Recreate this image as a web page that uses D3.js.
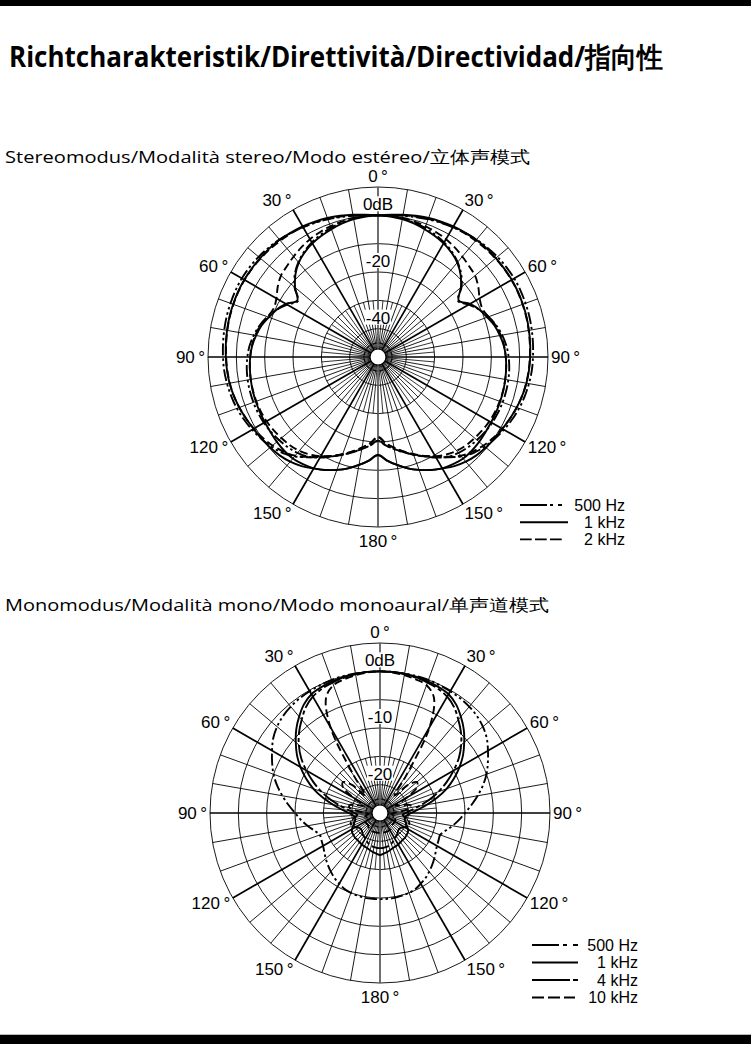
<!DOCTYPE html>
<html>
<head>
<meta charset="utf-8">
<script src="https://cdn.jsdelivr.net/npm/d3@7/dist/d3.min.js"></script>
<style>
  body { margin: 0; background: #fff; }
  text { fill: #000; }
</style>
</head>
<body>
<svg id="page" width="751" height="1044"></svg>
<script>
// ---- data -------------------------------------------------------------
const title = 'Richtcharakteristik/Direttività/Directividad/指向性';
const stereoTitle = 'Stereomodus/Modalità stereo/Modo estéreo/立体声模式';
const monoTitle = 'Monomodus/Modalità mono/Modo monoaural/单声道模式';

const angleTicks = [0, 30, 60, 90, 120, 150, 180];

// stereo mode: one channel, every 5 deg clockwise from front, dB
// (the other channel is the mirror image)
const stereoAngles = d3.range(0, 360, 5);
const stereo500 = [
  0, -0.1, -0.4, -0.9, -1.5, -2.3, -3.3, -4.6, -6.3, -8.5, -11.5, -15.5,
  -13, -10.5, -8.5, -6.8, -5.5, -4.5, -3.9, -3.5, -3.3, -3.2, -3.2, -3.3,
  -3.5, -3.9, -4.4, -5, -5.8, -7, -9, -11.3, -13.3, -15.2, -17, -18.7,
  -20.5, -18.7, -17, -15.3, -13.3, -11.3, -9.3, -6.8, -4.2, -2.2, -0.8, 0.3,
  1.3, 2.2, 3, 3.6, 4.1, 4.5, 4.7, 4.9, 5.1, 5.3, 5.4, 5.5,
  5.5, 5.3, 5, 4.6, 4.1, 3.5, 2.9, 2.3, 1.7, 1.1, 0.6, 0.2];
const stereo1k = [
  0, -0.2, -0.6, -1.2, -2, -2.8, -3.7, -4.9, -6.5, -8.8, -11.8, -15.2,
  -12.5, -10.5, -9, -7.4, -6.3, -5.4, -4.9, -4.6, -4.4, -4.2, -4.1, -4,
  -3.9, -3.7, -3.4, -3.2, -3.2, -3.8, -4.6, -6, -7.6, -9.3, -11.3, -13.3,
  -15.4, -13.3, -11.3, -9.3, -7.6, -6, -4.6, -3, -1.8, -0.9, -0.3, 0.2,
  0.7, 1.4, 2.1, 2.7, 3.2, 3.5, 3.7, 3.9, 4.1, 4.3, 4.4, 4.5,
  4.5, 4.4, 4.3, 4.2, 4, 3.6, 3.2, 2.7, 2.2, 1.6, 1, 0.4];
const stereo2k = [
  0, 0, -0.2, -0.5, -0.9, -1.4, -2, -2.8, -3.7, -4.6, -5.3, -6.8,
  -8.6, -9.4, -8.5, -7, -6, -5.3, -4.9, -4.6, -4.4, -4.3, -4.3, -4.4,
  -4.6, -5, -5.5, -6, -6.8, -8, -9.5, -11.5, -13.5, -15.5, -17.5, -19.5,
  -21.8, -19.5, -17.5, -15.5, -13.5, -11.5, -9.5, -7, -4.5, -2.8, -1.4, -0.3,
  0.6, 1.4, 2.1, 2.7, 3.1, 3.4, 3.6, 3.8, 4, 4.2, 4.3, 4.4,
  4.4, 4.3, 4.1, 3.9, 3.6, 3.3, 2.9, 2.4, 1.9, 1.3, 0.8, 0.3];

// mono mode: symmetric, every 5 deg from 0 to 180, dB
const monoAngles = d3.range(0, 185, 5);
const mono500 = [0, 0, 0, 0, 0, -0.1, -0.2, -0.3, -0.5, -0.8, -1.3, -2, -3,
  -4, -5, -6.2, -7.5, -8.8, -10, -11, -12, -13, -13.7, -13.6, -13.4,
  -13, -12.5, -12, -11.5, -11, -10.6, -10.2, -10, -9.9, -9.8, -9.8, -9.8];
const mono1k = [0, 0, -0.1, -0.2, -0.3, -0.5, -0.8, -1.6, -2.8, -4.1, -5.6, -7.1, -8.8,
  -10.6, -12.5, -14.6, -16.6, -18.3, -19.5, -20.2, -20.5, -20.5, -20.2, -19.8, -19.3,
  -19, -18.9, -18.8, -18.8, -18.7, -18.6, -18.5, -18.4, -18.2, -18, -17.8, -17.6];
const mono4k = [0, 0, -0.1, -0.3, -0.5, -0.8, -1.3, -2.2, -3.5, -4.8, -6.3, -8, -10,
  -12, -14, -16, -18, -19.5, -20.5, -21, -20.5, -19.8, -19.5, -19.6, -20,
  -20.5, -20.6, -20.5, -20.2, -20, -19.8, -19.5, -19.2, -19, -18.9, -18.8, -18.8];
const mono10k = [0, -0.1, -0.3, -0.6, -1, -2.5, -7.5, -17, -21, -18, -16.5, -17, -19.5,
  -22, -21, -19.5, -19.5, -21, -22.5, -23, -22.5, -22.3, -22.2, -22, -22,
  -22, -22, -22, -21.8, -21.7, -21.6, -21.5, -21.5, -21.5, -21.5, -21.5, -21.5];

const stereoRings = [10, 0, -10, -20, -30, -40, -45];
const stereoLabels = [[0, '0dB'], [-20, '-20'], [-40, '-40']];
const monoRings = [5, 0, -5, -10, -15, -20, -22.5];
const monoLabels = [[0, '0dB'], [-10, '-10'], [-20, '-20']];

const stereoLegend = ['500 Hz', '1 kHz', '2 kHz'];
const monoLegend = ['500 Hz', '1 kHz', '4 kHz', '10 kHz'];

// ---- styles ----------------------------------------------------------
const dash = {
  d500: '12,3,2.5,3,2.5,3',
  solid: null,
  dashed: '8,4',
  longShort: '18,3,4,3'
};

const svg = d3.select('#page');
const R = 170;
const ticksFont = '"Liberation Sans", Arial, sans-serif';

// top and bottom bars
svg.append('rect').attr('x', 0).attr('y', 0).attr('width', 751).attr('height', 6).attr('fill', '#000');
svg.append('rect').attr('x', 0).attr('y', 1034).attr('width', 751).attr('height', 1).attr('fill', '#bbb');
svg.append('rect').attr('x', 0).attr('y', 1035).attr('width', 751).attr('height', 9).attr('fill', '#000');

svg.append('text')
  .attr('x', 9).attr('y', 67)
  .attr('font-family', '"Open Sans", "Noto Sans", sans-serif')
  .attr('font-weight', 700)
  .attr('font-size', 28)
  .attr('textLength', 654)
  .attr('lengthAdjust', 'spacingAndGlyphs')
  .text(title);

svg.append('text')
  .attr('x', 5).attr('y', 163)
  .attr('font-family', '"Open Sans", "Noto Sans", sans-serif')
  .attr('font-size', 17)
  .attr('textLength', 525)
  .attr('lengthAdjust', 'spacingAndGlyphs')
  .text(stereoTitle);

svg.append('text')
  .attr('x', 5).attr('y', 611)
  .attr('font-family', '"Open Sans", "Noto Sans", sans-serif')
  .attr('font-size', 17)
  .attr('textLength', 544)
  .attr('lengthAdjust', 'spacingAndGlyphs')
  .text(monoTitle);

function drawPolar(cx, cy, dbDomain, rings, labels, series, legend) {
  const g = svg.append('g').attr('transform', `translate(${cx},${cy})`);
  const r = d3.scaleLinear().domain(dbDomain).range([0, R]);
  const rad = d => d * Math.PI / 180;
  const rIn = 7;

  // rings
  g.selectAll('circle.ring').data(rings).join('circle')
    .attr('r', d => r(d)).attr('fill', 'none')
    .attr('stroke', '#000').attr('stroke-width', 0.9);

  // fine spokes near the centre every 5 deg
  const rFine = r(dbDomain[0] + (dbDomain[1] - dbDomain[0]) / 3);
  g.selectAll('line.fine').data(d3.range(5, 360, 10)).join('line')
    .attr('x1', d => rIn * Math.sin(rad(d))).attr('y1', d => -rIn * Math.cos(rad(d)))
    .attr('x2', d => rFine * Math.sin(rad(d))).attr('y2', d => -rFine * Math.cos(rad(d)))
    .attr('stroke', '#000').attr('stroke-width', 0.8);

  // spokes every 10 deg, heavier every 30 deg
  g.selectAll('line.spoke').data(d3.range(0, 360, 10)).join('line')
    .attr('x1', d => rIn * Math.sin(rad(d))).attr('y1', d => -rIn * Math.cos(rad(d)))
    .attr('x2', d => R * Math.sin(rad(d))).attr('y2', d => -R * Math.cos(rad(d)))
    .attr('stroke', d => (d % 180 === 0) ? '#555' : '#000')
    .attr('stroke-width', d => d % 30 === 0 ? 1.7 : 0.9);

  g.append('circle').attr('r', rIn + 1).attr('fill', '#fff')
    .attr('stroke', '#000').attr('stroke-width', 1.2);

  // dB labels with white backing
  const lab = g.selectAll('g.dbl').data(labels).join('g');
  lab.append('rect')
    .attr('x', d => d[1] === '0dB' ? -16 : -13).attr('width', d => d[1] === '0dB' ? 32 : 26)
    .attr('y', d => -r(d[0]) - 19).attr('height', 15).attr('fill', '#fff');
  lab.append('text')
    .attr('x', 0).attr('y', d => -r(d[0]) - 5)
    .attr('text-anchor', 'middle')
    .attr('font-family', ticksFont).attr('font-size', 17)
    .text(d => d[1]);

  // curves
  series.forEach(s => {
    const pts = s.angles.map((a, i) => [rad(a), r(s.values[i])]);
    const line = d3.lineRadial().curve(d3.curveCatmullRomClosed.alpha(0.5));
    g.append('path').attr('d', line(pts)).attr('fill', 'none')
      .attr('stroke', '#000').attr('stroke-width', 1.9)
      .attr('stroke-dasharray', s.dash);
  });

  // angle labels
  const angLab = [];
  angleTicks.forEach(a => {
    if (a === 0 || a === 180) angLab.push([a, 0]);
    else { angLab.push([a, 1]); angLab.push([a, -1]); }
  });
  g.selectAll('text.ang').data(angLab).join('text')
    .attr('font-family', ticksFont).attr('font-size', 17)
    .attr('text-anchor', d => d[1] === 0 ? 'middle' : (d[1] > 0 ? 'start' : 'end'))
    .attr('dominant-baseline', 'central')
    .attr('x', d => d[1] * (R + 3) * Math.sin(rad(d[0])))
    .attr('y', d => {
      if (d[0] === 0) return -R - 11;
      if (d[0] === 180) return R + 14;
      return -(R + 3) * Math.cos(rad(d[0])) - 8 * Math.cos(rad(d[0]));
    })
    .text(d => d[0] + '\u2009°');

  // legend
  const lg = svg.append('g').attr('transform', `translate(${legend.x},${legend.y})`);
  legend.items.forEach((it, i) => {
    const y = i * legend.step;
    lg.append('line').attr('x1', 0).attr('x2', it.len).attr('y1', y).attr('y2', y)
      .attr('stroke', '#000').attr('stroke-width', 1.9).attr('stroke-dasharray', it.dash);
    lg.append('text').attr('x', legend.textX).attr('y', y)
      .attr('dominant-baseline', 'central').attr('text-anchor', 'end')
      .attr('font-family', ticksFont).attr('font-size', 16)
      .text(it.label);
  });
}

const mirror = v => v.map((_, i) => v[(v.length - i) % v.length]);
const full = half => half.concat(half.slice(1, -1).reverse());
const monoFullAngles = d3.range(0, 360, 5);

drawPolar(378, 357, [-50, 10], stereoRings, stereoLabels, [
  { angles: stereoAngles, values: stereo500, dash: dash.d500 },
  { angles: stereoAngles, values: mirror(stereo500), dash: dash.d500 },
  { angles: stereoAngles, values: stereo1k, dash: dash.solid },
  { angles: stereoAngles, values: mirror(stereo1k), dash: dash.solid },
  { angles: stereoAngles, values: stereo2k, dash: dash.dashed },
  { angles: stereoAngles, values: mirror(stereo2k), dash: dash.dashed }
], {
  x: 520, y: 505, textX: 105, step: 17.2,
  items: [
    { label: stereoLegend[0], dash: '27,3,3,5,4', len: 42 },
    { label: stereoLegend[1], dash: null, len: 48 },
    { label: stereoLegend[2], dash: '11.7,3.3', len: 42 }
  ]
});

drawPolar(380, 813, [-25, 5], monoRings, monoLabels, [
  { angles: monoFullAngles, values: full(mono500), dash: dash.d500 },
  { angles: monoFullAngles, values: full(mono1k), dash: dash.solid },
  { angles: monoFullAngles, values: full(mono4k), dash: dash.longShort },
  { angles: monoFullAngles, values: full(mono10k), dash: dash.dashed }
], {
  x: 532, y: 945, textX: 106, step: 17.5,
  items: [
    { label: monoLegend[0], dash: '27,4,4,6,5', len: 46 },
    { label: monoLegend[1], dash: null, len: 46 },
    { label: monoLegend[2], dash: '38,3,5', len: 46 },
    { label: monoLegend[3], dash: '12,4', len: 43 }
  ]
});
</script>
</body>
</html>
